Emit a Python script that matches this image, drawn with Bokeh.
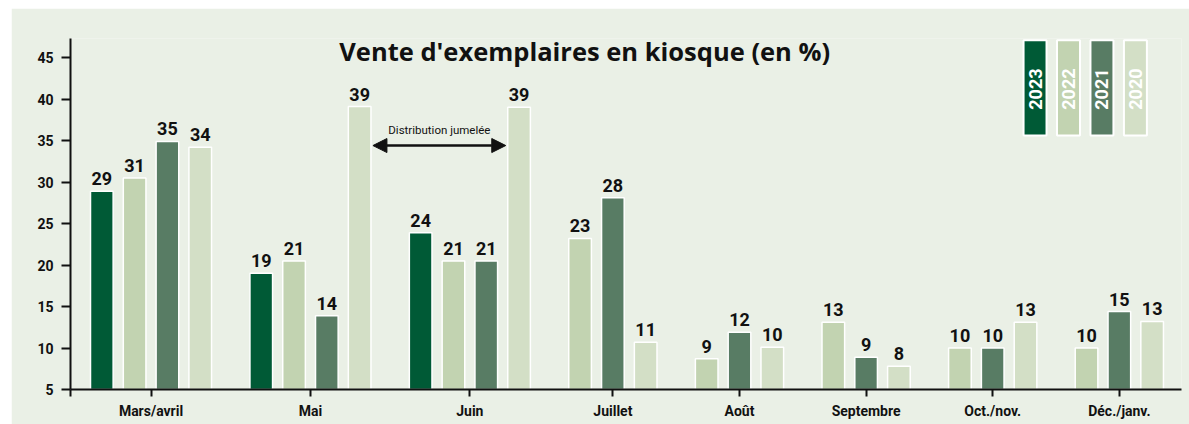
from math import pi
from bokeh.plotting import figure
from bokeh.models import (ColumnDataSource, Range1d, FixedTicker, Label, LabelSet,
                          Arrow, NormalHead)
from bokeh.core.properties import value
from bokeh.embed import file_html
from bokeh.resources import INLINE

# ---------------- data ----------------
months = ["Mars/avril", "Mai", "Juin", "Juillet", "Août", "Septembre", "Oct./nov.", "Déc./janv."]
years = ["2023", "2022", "2021", "2020"]

# bar heights
h2023 = [28.9, 19.0, 23.9, None, None, None, None, None]
h2022 = [30.5, 20.5, 20.5, 23.2, 8.7, 13.1, 10.0, 10.0]
h2021 = [34.9, 13.9, 20.5, 28.1, 11.9, 8.9, 10.0, 14.4]
h2020 = [34.2, 39.1, 39.0, 10.7, 10.1, 7.8, 13.1, 13.2]

# printed value labels
l2023 = [29, 19, 24, None, None, None, None, None]
l2022 = [31, 21, 21, 23, 9, 13, 10, 10]
l2021 = [35, 14, 21, 28, 12, 9, 10, 15]
l2020 = [34, 39, 39, 11, 10, 8, 13, 13]

y_ticks = [5, 10, 15, 20, 25, 30, 35, 40, 45]
title_text = "Vente d'exemplaires en kiosque (en %)"
note_text = "Distribution jumelée"

# ---------------- styles ----------------
BG = "#EAF0E6"
colors = {"2023": "#005A36", "2022": "#C2D3B1", "2021": "#587C64", "2020": "#D3DFC6"}
FONT = "Roboto"
BAR_W = 0.69
GAP = 0.86

heights = {"2023": h2023, "2022": h2022, "2021": h2021, "2020": h2020}
labels = {"2023": l2023, "2022": l2022, "2021": l2021, "2020": l2020}

xs, tops, labs, cols = [], [], [], []
pos_of = {}
centers = []
pos = 0.0
for mi, m in enumerate(months):
    first = last = None
    for y in years:
        h = heights[y][mi]
        if h is None:
            continue
        xs.append(pos)
        tops.append(h)
        labs.append(str(labels[y][mi]))
        cols.append(colors[y])
        pos_of[(m, y)] = pos
        if first is None:
            first = pos
        last = pos
        pos += 1
    centers.append(round((first + last) / 2, 4))
    pos += GAP

x_start = round(xs[0] - BAR_W / 2 - 0.61, 4)
x_end = xs[-1] + BAR_W / 2 + 0.55

src = ColumnDataSource(dict(x=xs, top=tops, label=labs, color=cols))

p = figure(width=1178, height=416, x_range=Range1d(x_start, x_end), y_range=Range1d(5, 47.3),
           output_backend="svg", toolbar_location=None,
           min_border_left=59, min_border_right=8, min_border_top=30, min_border_bottom=35,
           margin=(8, 0, 0, 11))
p.background_fill_color = BG
p.border_fill_color = BG
p.outline_line_color = None
p.xgrid.visible = False
p.ygrid.visible = False

p.vbar(x="x", top="top", bottom=5, width=BAR_W, fill_color="color", line_color="white",
       line_width=1.5, source=src)

p.add_layout(LabelSet(x="x", y="top", text="label", source=src, y_offset=6,
                      text_align="center", text_baseline="alphabetic",
                      text_font=value(FONT), text_font_style="bold", text_font_size="18px",
                      text_color="#111111"))

# y axis
ya = p.yaxis[0]
ya.ticker = FixedTicker(ticks=y_ticks)
ya.major_tick_out = 9
ya.major_tick_in = 0
ya.minor_tick_line_color = None
ya.axis_line_width = 2
ya.major_tick_line_width = 2
ya.axis_line_color = "#111111"
ya.major_tick_line_color = "#111111"
ya.major_label_standoff = 8
ya.major_label_text_font = FONT
ya.major_label_text_font_style = "bold"
ya.major_label_text_font_size = "14px"
ya.major_label_text_color = "#111111"

# x axis
xa = p.xaxis[0]
xa.ticker = FixedTicker(ticks=[x_start] + centers)
overrides = {x_start: ""}
for c, m in zip(centers, months):
    overrides[c] = m
xa.major_label_overrides = overrides
xa.major_tick_out = 7
xa.major_tick_in = 0
xa.minor_tick_line_color = None
xa.axis_line_width = 2
xa.major_tick_line_width = 2
xa.axis_line_color = "#111111"
xa.major_tick_line_color = "#111111"
xa.major_label_standoff = 6
xa.major_label_text_font = FONT
xa.major_label_text_font_style = "bold"
xa.major_label_text_font_size = "14px"
xa.major_label_text_color = "#111111"

# title
p.add_layout(Label(x=14.72, y=45.84, text=title_text, text_align="center",
                   text_baseline="middle", text_font="Open Sans", text_font_style="bold",
                   text_font_size="25.5px", text_color="#111111"))

# legend keys
LEG_X0 = 28.45
LEG_STEP = 1.02
leg_x = [LEG_X0 + i * LEG_STEP for i in range(len(years))]
p.quad(left=[x - 0.35 for x in leg_x], right=[x + 0.35 for x in leg_x],
       bottom=35.6, top=47.1, fill_color=[colors[y] for y in years],
       line_color="white", line_width=2)
p.text(x=leg_x, y=[41.2] * len(years), text=years, angle=pi / 2,
       text_align="center", text_baseline="middle", text_color="white",
       text_font=value(FONT), text_font_style="bold", text_font_size="18px")

# shared-distribution arrow
ax0 = pos_of[("Mai", "2020")] + BAR_W / 2 + 0.06
ax1 = pos_of[("Juin", "2020")] - BAR_W / 2 - 0.06
AY = 34.4
p.add_layout(Arrow(x_start=ax0, y_start=AY, x_end=ax1, y_end=AY, line_width=2.5,
                   line_color="#111111",
                   start=NormalHead(size=14, fill_color="#111111", line_color="#111111"),
                   end=NormalHead(size=14, fill_color="#111111", line_color="#111111")))
p.add_layout(Label(x=(ax0 + ax1) / 2, y=36.3, text=note_text, text_align="center",
                   text_baseline="middle", text_font=FONT, text_font_size="11.5px",
                   text_color="#111111"))

open("out.html", "w").write(file_html(p, INLINE))
